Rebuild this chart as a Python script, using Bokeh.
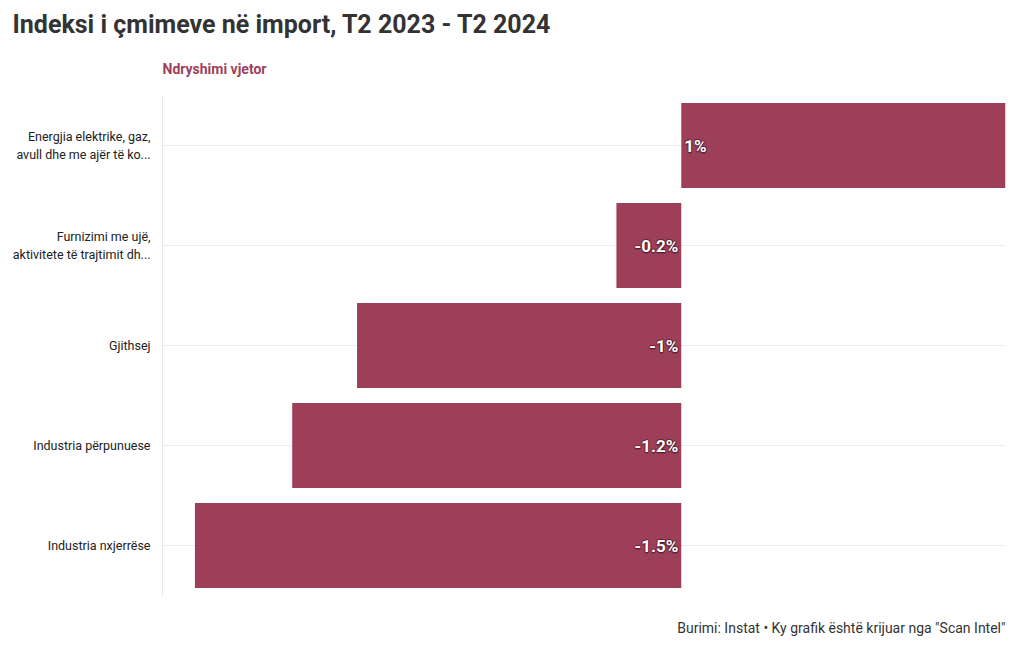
from bokeh.plotting import figure
from bokeh.models import FactorRange, Range1d, Title, ColumnDataSource
from bokeh.core.properties import value
from bokeh.embed import file_html
from bokeh.resources import INLINE

# ---- data ----
categories = [
    "Energjia elektrike, gaz,\navull dhe me ajër të ko...",
    "Furnizimi me ujë,\naktivitete të trajtimit dh...",
    "Gjithsej",
    "Industria përpunuese",
    "Industria nxjerrëse",
]
values = [1.0, -0.2, -1.0, -1.2, -1.5]
value_labels = ["1%", "-0.2%", "-1%", "-1.2%", "-1.5%"]

title_text = "Indeksi i çmimeve në import, T2 2023 - T2 2024"
subtitle_text = "Ndryshimi vjetor"
footer_text = 'Burimi: Instat • Ky grafik është krijuar nga "Scan Intel"'

FONT = "Roboto"
BAR = "#9e3f5a"

pos_idx = [i for i, v in enumerate(values) if v >= 0]
neg_idx = [i for i, v in enumerate(values) if v < 0]

src = ColumnDataSource(dict(cat=categories, val=values, zero=[0] * len(values)))
src_pos = ColumnDataSource(dict(cat=[categories[i] for i in pos_idx], zero=[0] * len(pos_idx),
                                lab=[value_labels[i] for i in pos_idx]))
src_neg = ColumnDataSource(dict(cat=[categories[i] for i in neg_idx], zero=[0] * len(neg_idx),
                                lab=[value_labels[i] for i in neg_idx]))

p = figure(
    frame_width=843, frame_height=500,
    y_range=FactorRange(*list(reversed(categories)), range_padding=0),
    x_range=Range1d(-1.6, 1.0),
    output_backend="svg", toolbar_location=None,
    min_border_left=162, min_border_right=15, min_border_top=95, min_border_bottom=0,
)
p.outline_line_color = None
p.background_fill_color = "white"

# titles
p.title.text = title_text
p.title.text_font = FONT
p.title.text_font_style = "bold"
p.title.text_font_size = "25px"
p.title.text_color = "#333333"
p.title.offset = -150
p.title.standoff = 4

sub = Title(text=subtitle_text, text_font=FONT, text_font_style="bold", text_font_size="14px",
            text_color=BAR, offset=0, standoff=37)
p.add_layout(sub, "above")

foot = Title(text=footer_text, text_font=FONT, text_font_style="normal", text_font_size="14px",
             text_color="#333333", align="right", standoff=45)
p.add_layout(foot, "below")

# axes
p.xaxis.visible = False
p.yaxis.axis_line_color = "#e8e8e8"
p.yaxis.major_tick_line_color = None
p.yaxis.minor_tick_line_color = None
p.yaxis.major_label_text_font = FONT
p.yaxis.major_label_text_font_size = "12.5px"
p.yaxis.major_label_text_color = "#222222"
p.yaxis.major_label_standoff = 6
p.xgrid.visible = False
p.ygrid.grid_line_color = "#ececec"

p.hbar(y="cat", left="zero", right="val", height=0.85, source=src, fill_color=BAR, line_color=None)

common = dict(text_font=value(FONT), text_font_style="bold", text_font_size="17px",
              text_baseline="middle")
# soft dark halo behind the white labels
for dx, dy in [(-1, 0), (1, 0), (0, -1), (0, 1), (-1, -1), (1, 1), (-1, 1), (1, -1), (0, 2)]:
    p.text(x="zero", y="cat", text="lab", source=src_pos, text_align="left", x_offset=3 + dx,
           y_offset=dy, text_color="#4a1426", text_alpha=0.35, **common)
    p.text(x="zero", y="cat", text="lab", source=src_neg, text_align="right", x_offset=-3 + dx,
           y_offset=dy, text_color="#4a1426", text_alpha=0.35, **common)
p.text(x="zero", y="cat", text="lab", source=src_pos, text_align="left", x_offset=3,
       text_color="white", **common)
p.text(x="zero", y="cat", text="lab", source=src_neg, text_align="right", x_offset=-3,
       text_color="white", **common)

open("out.html", "w").write(file_html(p, INLINE))
